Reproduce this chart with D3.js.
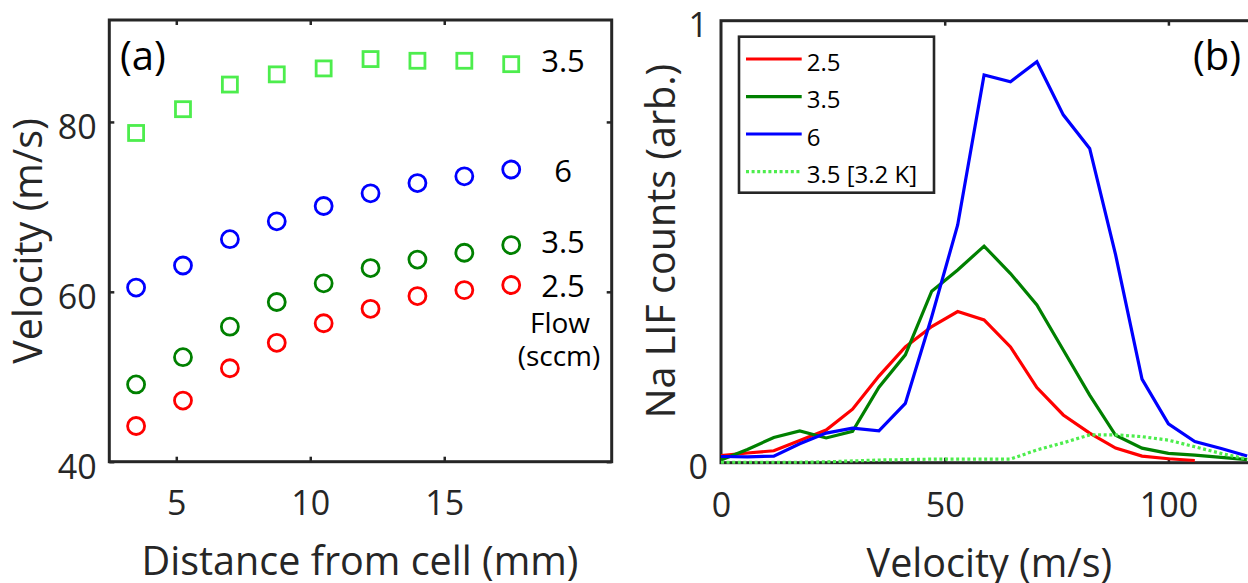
<!DOCTYPE html>
<html>
<head>
<meta charset="utf-8">
<script src="https://cdn.jsdelivr.net/npm/d3@7"></script>
<style>
  body { margin: 0; background: #fff; }
  text { font-family: "Open Sans", "Noto Sans", sans-serif; }
</style>
</head>
<body>
<div id="chart"></div>
<script>
// panel (a): velocity vs distance from cell
const distance = [3.5, 5.25, 7, 8.75, 10.5, 12.25, 14, 15.75, 17.5];
const vel25 = [44.2, 47.2, 51.0, 54.0, 56.3, 58.0, 59.5, 60.2, 60.8];
const vel35 = [49.1, 52.3, 55.9, 58.8, 61.0, 62.8, 63.8, 64.6, 65.5];
const vel6 = [60.5, 63.1, 66.2, 68.3, 70.1, 71.6, 72.8, 73.6, 74.4];
const vel35cold = [78.7, 81.5, 84.4, 85.6, 86.3, 87.4, 87.2, 87.2, 86.8];
const sideLabels = ["3.5", "6", "3.5", "2.5"];

// panel (b): LIF counts vs velocity
const velocity = [0, 5.9, 11.8, 17.6, 23.5, 29.4, 35.3, 41.2, 47.1, 52.9, 58.8, 64.7, 70.6, 76.5, 82.4, 88.2, 94.1, 100, 105.9, 111.8, 117.6];
const lif25 = [0.016, 0.022, 0.027, 0.05, 0.074, 0.121, 0.196, 0.262, 0.308, 0.342, 0.323, 0.262, 0.17, 0.108, 0.067, 0.033, 0.015, 0.009, 0.005];
const lif35 = [0.006, 0.03, 0.057, 0.072, 0.056, 0.071, 0.171, 0.244, 0.388, 0.436, 0.49, 0.428, 0.357, 0.255, 0.153, 0.062, 0.033, 0.021, 0.017, 0.012, 0.007];
const lif6 = [0.014, 0.013, 0.015, 0.043, 0.067, 0.078, 0.072, 0.134, 0.33, 0.538, 0.877, 0.862, 0.907, 0.787, 0.711, 0.47, 0.189, 0.088, 0.048, 0.032, 0.015];
const lif35cold = [0.001, 0.001, 0.001, 0.001, 0.002, 0.004, 0.006, 0.007, 0.008, 0.008, 0.008, 0.008, 0.029, 0.045, 0.063, 0.063, 0.059, 0.051, 0.036, 0.021, 0.008];
const legendNames = ["2.5", "3.5", "6", "3.5 [3.2 K]"];

const axisCol = "#262626";
const cRed = "#ff0000", cGreen = "#008000", cBlue = "#0000ff", cLight = "#4ded4d";

const svg = d3.select("#chart").append("svg")
  .attr("width", 1248).attr("height", 583)
  .style("display", "block");

function frame(g, x, y) {
  const [x0, x1] = x.range(), [y0, y1] = y.range();
  g.append("rect")
    .attr("x", x0).attr("y", y1)
    .attr("width", x1 - x0).attr("height", y0 - y1)
    .attr("fill", "none").attr("stroke", axisCol).attr("stroke-width", 3);
}

function styleAxis(g, size) {
  g.select(".domain").remove();
  g.selectAll(".tick line").attr("stroke", axisCol).attr("stroke-width", 2.5);
  g.selectAll(".tick text").attr("fill", axisCol).style("font-size", size + "px")
    .style("font-family", '"Open Sans", sans-serif');
}

// ---------- panel (a)
const xa = d3.scaleLinear().domain([2.5, 21.25]).range([109.3, 611.7]);
const ya = d3.scaleLinear().domain([40, 92]).range([461.7, 20]);
const ga = svg.append("g");

ga.append("g").attr("transform", "translate(0," + ya(40) + ")")
  .call(d3.axisBottom(xa).tickValues([5, 10, 15]).tickSize(-5).tickPadding(29))
  .call(g => styleAxis(g, 34));
ga.append("g").attr("transform", "translate(0," + ya(92) + ")")
  .call(d3.axisTop(xa).tickValues([5, 10, 15]).tickSize(-5).tickFormat(""))
  .call(g => styleAxis(g, 34));
ga.append("g").attr("transform", "translate(" + xa(2.5) + ",0)")
  .call(d3.axisLeft(ya).tickValues([40, 60, 80]).tickSize(-5).tickPadding(12.6))
  .call(g => styleAxis(g, 34))
  .call(g => g.selectAll(".tick text").attr("dy", "0.5em"));
ga.append("g").attr("transform", "translate(" + xa(21.25) + ",0)")
  .call(d3.axisRight(ya).tickValues([40, 60, 80]).tickSize(-5).tickFormat(""))
  .call(g => styleAxis(g, 34));
frame(ga, xa, ya);

const circleSeries = [[vel25, cRed], [vel35, cGreen], [vel6, cBlue]];
circleSeries.forEach(([vals, col]) => {
  ga.append("g").selectAll("circle")
    .data(vals).enter().append("circle")
    .attr("cx", (d, i) => xa(distance[i]))
    .attr("cy", d => ya(d))
    .attr("r", 8.5)
    .attr("fill", "none").attr("stroke", col).attr("stroke-width", 2.8);
});
ga.append("g").selectAll("rect")
  .data(vel35cold).enter().append("rect")
  .attr("x", (d, i) => xa(distance[i]) - 7.5)
  .attr("y", d => ya(d) - 7.5)
  .attr("width", 15).attr("height", 15)
  .attr("fill", "none").attr("stroke", cLight).attr("stroke-width", 2.8);

ga.append("text").attr("x", 120).attr("y", 70).style("font-size", "40px").attr("fill", "#000").text("(a)");

const sideY = [71.7, 181.7, 253.3, 296.7];
sideLabels.forEach((t, i) => {
  ga.append("text").attr("x", 563).attr("y", sideY[i]).attr("text-anchor", "middle")
    .style("font-size", "31px").attr("fill", "#000").text(t);
});
ga.append("text").attr("x", 560).attr("y", 333).attr("text-anchor", "middle")
  .style("font-size", "28px").attr("fill", "#000").text("Flow");
ga.append("text").attr("x", 559).attr("y", 366).attr("text-anchor", "middle")
  .style("font-size", "28px").attr("fill", "#000").text("(sccm)");

ga.append("text").attr("x", 360).attr("y", 575).attr("text-anchor", "middle")
  .style("font-size", "39.5px").attr("fill", axisCol).text("Distance from cell (mm)");
ga.append("text").attr("transform", "translate(42,241) rotate(-90)").attr("text-anchor", "middle")
  .style("font-size", "39.5px").attr("fill", axisCol).text("Velocity (m/s)");

// ---------- panel (b)
const xb = d3.scaleLinear().domain([0, 120]).range([721, 1257.9]);
const yb = d3.scaleLinear().domain([0, 1]).range([462.7, 20.7]);
const gb = svg.append("g");

gb.append("g").attr("transform", "translate(0," + yb(0) + ")")
  .call(d3.axisBottom(xb).tickValues([0, 50, 100]).tickSize(-5).tickPadding(30))
  .call(g => styleAxis(g, 34));
gb.append("g").attr("transform", "translate(0," + yb(1) + ")")
  .call(d3.axisTop(xb).tickValues([50, 100]).tickSize(-5).tickFormat(""))
  .call(g => styleAxis(g, 34));
gb.append("g").attr("transform", "translate(" + xb(0) + ",0)")
  .call(d3.axisLeft(yb).tickValues([0, 1]).tickFormat(d3.format("d")).tickSize(0).tickPadding(13))
  .call(g => styleAxis(g, 34))
  .call(g => g.selectAll(".tick text").attr("dy", "0.45em"));
frame(gb, xb, yb);

const line = d3.line().x((d, i) => xb(velocity[i])).y(d => yb(d));
const lineSeries = [
  { vals: lif25, col: cRed, dash: null },
  { vals: lif35, col: cGreen, dash: null },
  { vals: lif6, col: cBlue, dash: null },
  { vals: lif35cold, col: cLight, dash: "3,2.6" }
];
lineSeries.forEach(s => {
  gb.append("path").datum(s.vals)
    .attr("d", line)
    .attr("fill", "none").attr("stroke", s.col).attr("stroke-width", 3.2)
    .attr("stroke-linejoin", "miter")
    .attr("stroke-dasharray", s.dash);
});

// legend
const lg = gb.append("g");
lg.append("rect").attr("x", 739).attr("y", 36.7).attr("width", 195).attr("height", 156)
  .attr("fill", "#fff").attr("stroke", axisCol).attr("stroke-width", 2.6);
const rowY = [59, 96.7, 134, 171.7];
lineSeries.forEach((s, i) => {
  lg.append("line").attr("x1", 746).attr("x2", 801.7).attr("y1", rowY[i]).attr("y2", rowY[i])
    .attr("stroke", s.col).attr("stroke-width", 3.2).attr("stroke-dasharray", s.dash);
  lg.append("text").attr("x", 806.7).attr("y", rowY[i] + 11.7)
    .style("font-size", "24px").attr("fill", "#000").text(legendNames[i]);
});

gb.append("text").attr("x", 1241).attr("y", 70).attr("text-anchor", "end")
  .style("font-size", "40px").attr("fill", "#000").text("(b)");

gb.append("text").attr("x", xb(60)).attr("y", 577).attr("text-anchor", "middle")
  .style("font-size", "39.5px").attr("fill", axisCol).text("Velocity (m/s)");
gb.append("text").attr("transform", "translate(675,241) rotate(-90)").attr("text-anchor", "middle")
  .style("font-size", "39.5px").attr("fill", axisCol).text("Na LIF counts (arb.)");
</script>
</body>
</html>
